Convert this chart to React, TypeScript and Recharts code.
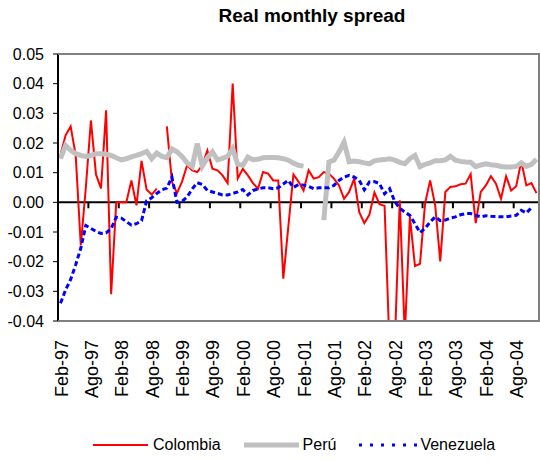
import { LineChart, Line, XAxis, YAxis, ReferenceLine, Legend } from 'recharts'

const FONT = '"Liberation Sans", Arial, sans-serif'

// monthly points, Feb-97 .. Dec-04
const colombia = [
  0.016, 0.0226, 0.0256, 0.0158, -0.0145, 0.005, 0.0276, 0.0094, 0.0047, 0.031,
  -0.031, 0, 0, 0, 0.0074, -0.001, 0.014, 0.0043, 0.0026, 0.0046,
  null, 0.0256, 0.0069, 0.0031, 0.007, 0.0125, 0.0108, 0.0102, 0.0125, 0.0175,
  0.0113, 0.0108, 0.0091, 0.0065, 0.04, 0.008, 0.0113, 0.0091, 0.0065, 0.0046,
  0.0102, 0.0097, 0.0074, 0.0074, -0.0257, -0.008, 0.0094, 0.007, 0.004, 0.0108,
  0.008, 0.0085, 0.0102, 0.0097, 0.008, 0.0057, 0.0012, 0.0035, 0.008, -0.0033,
  -0.007, -0.0042, 0.0033, -0.0006, -0.0012, -0.05, -0.049, 0.0007, -0.045, -0.0048,
  -0.0215, -0.0207, -0.0004, 0.0074, -0.001, -0.0199, 0.0035, 0.0052, 0.0054, 0.0061,
  0.0063, 0.0095, -0.007, 0.0035, 0.0057, 0.0088, 0.0063, 0.0012, 0.0088, 0.004,
  0.0054, 0.0139, 0.0057, 0.0065, 0.0031,
]

const peru = [
  0.0147, 0.0192, 0.0175, 0.0164, 0.0158, 0.0155, 0.0158, 0.0164, 0.0164, 0.0162,
  0.0158, 0.015, 0.0143, 0.0147, 0.0153, 0.0158, 0.0164, 0.0172, 0.0147, 0.0166,
  0.0155, 0.0151, 0.018, 0.017, 0.0155, 0.0133, 0.012, 0.0198, 0.0122, 0.015,
  0.017, 0.0143, 0.0148, 0.0155, 0.0181, 0.0128, 0.0125, 0.0153, 0.0144, 0.0145,
  0.015, 0.0151, 0.0151, 0.015, 0.0147, 0.0142, 0.0132, 0.0125, 0.0122, null,
  null, null, -0.006, 0.0136, 0.0142, 0.017, 0.0203, 0.0137, 0.0139, 0.0137,
  0.0133, 0.013, 0.014, 0.0143, 0.0144, 0.0147, 0.0142, 0.0135, 0.013, 0.0147,
  0.0158, 0.012, 0.0128, 0.0133, 0.014, 0.014, 0.0143, 0.0155, 0.0142, 0.0138,
  0.0136, 0.0135, 0.012, 0.0126, 0.013, 0.0127, 0.0125, 0.0121, 0.0119, 0.0119,
  0.0121, 0.0133, 0.0121, 0.0128, 0.0145,
]

const venezuela = [
  -0.034, -0.0295, -0.026, -0.021, -0.0155, -0.0078, -0.0088, -0.0098, -0.0105, -0.0103,
  -0.0088, -0.005, -0.0053, -0.0065, -0.0077, -0.0072, -0.0062, 0.0005, 0.0015, 0.003,
  0.0042, 0.0048, 0.0085, 0.0, 0.0003, 0.0018, 0.0045, 0.0066, 0.006, 0.004,
  0.0035, 0.003, 0.0025, 0.0025, 0.003, 0.0035, 0.0043, 0.0025, 0.004, 0.0045,
  0.0049, 0.0049, 0.0046, 0.0049, 0.0062, 0.0074, 0.005, 0.006, 0.0058, 0.0054,
  0.0046, 0.0049, 0.0049, 0.0049, 0.0057, 0.0074, 0.0085, 0.0091, 0.0085, 0.0074,
  0.0042, 0.0069, 0.007, 0.0063, 0.0029, 0.0046, 0.0003, -0.002, -0.0033, -0.0044,
  -0.0072, -0.0102, -0.0088, -0.0066, -0.0049, -0.0062, -0.006, -0.0053, -0.0049, -0.0042,
  -0.0038, -0.0038, -0.0044, -0.0049, -0.0045, -0.0047, -0.0048, -0.0049, -0.0049, -0.0046,
  -0.0044, -0.0027, -0.0036, -0.0018, null,
]

const tickLabels = [
  'Feb-97', 'Ago-97', 'Feb-98', 'Ago-98', 'Feb-99', 'Ago-99', 'Feb-00', 'Ago-00',
  'Feb-01', 'Ago-01', 'Feb-02', 'Ago-02', 'Feb-03', 'Ago-03', 'Feb-04', 'Ago-04',
]

const yTicks = [0.05, 0.04, 0.03, 0.02, 0.01, 0, -0.01, -0.02, -0.03, -0.04]

const data = colombia.map((c, i) => ({
  i,
  colombia: c,
  peru: peru[i],
  venezuela: venezuela[i],
}))

const xTicks = tickLabels.map((_, k) => k * 6)

const series = [
  { key: 'colombia', name: 'Colombia', color: '#FF0000', width: 2, dash: undefined, len: 55, gap: 5 },
  { key: 'peru', name: 'Perú', color: '#C0C0C0', width: 5, dash: undefined, len: 55, gap: 4 },
  { key: 'venezuela', name: 'Venezuela', color: '#0000FF', width: 3, dash: '3 8', len: 59, gap: 2 },
]

const XTick = ({ x, y, payload }: any) => (
  <text
    transform={`translate(${x + 7},${y + 11}) rotate(-90)`}
    textAnchor="end"
    fontSize={18}
    fontFamily={FONT}
    fill="#000"
  >
    {tickLabels[xTicks.indexOf(payload.value)]}
  </text>
)

const LegendContent = () => (
  <div style={{ display: 'flex', alignItems: 'center', paddingLeft: 93, fontFamily: FONT, fontSize: 16, color: '#000' }}>
    {series.map((s) => (
      <div key={s.key} style={{ display: 'flex', alignItems: 'center', marginRight: 23 }}>
        <svg width={s.len} height={10}>
          <line x1={0} y1={5} x2={s.len} y2={5} stroke={s.color} strokeWidth={s.width} strokeDasharray={s.dash} />
        </svg>
        <span style={{ marginLeft: s.gap }}>{s.name}</span>
      </div>
    ))}
  </div>
)

export default function App() {
  return (
    <div style={{ position: 'absolute', left: 0, top: 0, width: 540, height: 461, background: '#fff' }}>
      <div
        style={{
          position: 'absolute', left: 162, top: 6, width: 300, textAlign: 'center',
          fontFamily: FONT, fontWeight: 'bold', fontSize: 19, lineHeight: '19px', color: '#000',
        }}
      >
        Real monthly spread
      </div>
      <LineChart width={540} height={461} data={data} margin={{ top: 54, right: 1, left: 0, bottom: 40 }}>
        <XAxis
          dataKey="i"
          type="number"
          domain={[-0.5, 94.5]}
          ticks={xTicks}
          interval={0}
          height={100}
          tick={<XTick />}
          tickLine={false}
          axisLine={false}
        />
        <YAxis
          domain={[-0.04, 0.05]}
          ticks={yTicks}
          interval={0}
          allowDataOverflow
          width={58}
          tickSize={5}
          tickMargin={9}
          tickFormatter={(v: number) => v.toFixed(2)}
          tick={{ fill: '#000', fontSize: 16, fontFamily: FONT }}
          tickLine={{ stroke: '#000' }}
          axisLine={{ stroke: '#000', strokeWidth: 2 }}
        />
        <ReferenceLine y={0} stroke="#000" strokeWidth={2} />
        {xTicks.map((t) => (
          <ReferenceLine
            key={t}
            segment={[{ x: t - 0.5, y: 0 }, { x: t - 0.5, y: -0.002 }]}
            stroke="#000"
            strokeWidth={2}
            ifOverflow="visible"
          />
        ))}
        <Line
          dataKey="colombia"
          name="Colombia"
          stroke="#FF0000"
          strokeWidth={2}
          dot={false}
          isAnimationActive={false}
        />
        <Line
          dataKey="peru"
          name="Perú"
          stroke="#C0C0C0"
          strokeWidth={5}
          dot={false}
          isAnimationActive={false}
        />
        <Line
          dataKey="venezuela"
          name="Venezuela"
          stroke="#0000FF"
          strokeWidth={3}
          strokeDasharray="5 3"
          dot={false}
          isAnimationActive={false}
        />
        <Legend
          layout="horizontal"
          verticalAlign="middle"
          align="center"
          wrapperStyle={{ top: 436, left: 0, width: 540 }}
          content={<LegendContent />}
        />
      </LineChart>
      {/* plot-area frame (top, right, bottom edges) */}
      <div
        style={{
          position: 'absolute', left: 58, top: 53, width: 482, height: 269, boxSizing: 'border-box',
          borderTop: '2px solid #808080', borderRight: '2px solid #808080', borderBottom: '2px solid #808080',
          pointerEvents: 'none', zIndex: 5,
        }}
      />
    </div>
  )
}
